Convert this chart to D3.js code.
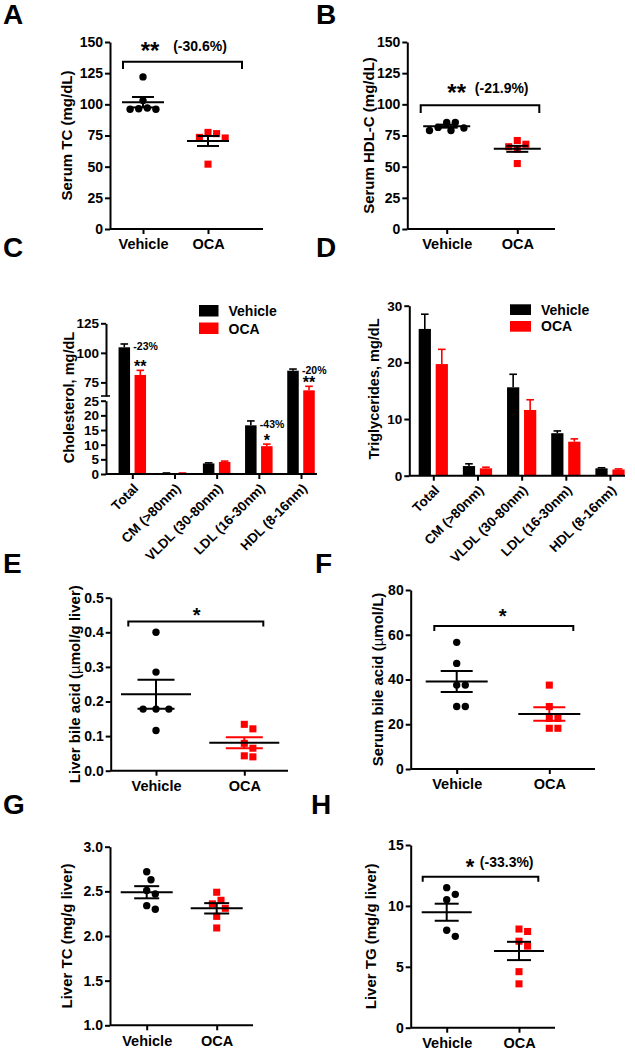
<!DOCTYPE html>
<html><head><meta charset="utf-8">
<script src="https://cdn.jsdelivr.net/npm/d3@7"></script>
<style>
body{margin:0;background:#fff}
svg{display:block}
</style>
</head><body>
<svg id="c" width="635" height="1050"></svg>
<script>
// ---------------- DATA ----------------
const groups = ["Vehicle", "OCA"];

// A: Serum TC (mg/dL)
const serumTCVehicle = [122, 103, 96.5, 96, 96, 97];
const serumTCOCA = [76.5, 73, 73.5, 77.5, 52];
const serumTCMean = [101.7, 70.6];
const serumTCSem = [4.2, 4.0];

// B: Serum HDL-C (mg/dL)
const serumHDLVehicle = [85.5, 81, 79, 79, 81.5, 85.5];
const serumHDLOCA = [68, 64, 66, 71, 52.5];
const serumHDLMean = [82.5, 64.3];
const serumHDLSem = [1.2, 2.4];

// C: Cholesterol by lipoprotein (mg/dL)
const lipoCats = ["Total", "CM (>80nm)", "VLDL (30-80nm)", "LDL (16-30nm)", "HDL (8-16nm)"];
const cholVehicle = [104.7, 0.3, 3.6, 16.6, 84.9];
const cholVehicleErr = [2.8, 0.05, 0.2, 1.5, 1.4];
const cholOCA = [81.3, 0.3, 4.1, 9.5, 68.3];
const cholOCAErr = [3.9, 0.05, 0.3, 0.7, 3.4];
const cholPct = ["-23%", "", "", "-43%", "-20%"];
const cholStars = ["**", "", "", "*", "**"];
const cholTicksLow = [0, 5, 10, 15, 20, 25];
const cholTicksHigh = [75, 100, 125];

// D: Triglycerides by lipoprotein (mg/dL)
const tgVehicle = [25.9, 1.7, 15.6, 7.5, 1.3];
const tgVehicleErr = [2.6, 0.4, 2.3, 0.4, 0.1];
const tgOCA = [19.7, 1.3, 11.6, 6.0, 1.1];
const tgOCAErr = [2.6, 0.2, 1.8, 0.5, 0.1];
const tgTicks = [0, 10, 20, 30];

// E: Liver bile acid (umol/g liver)
const liverBAVehicle = [0.40, 0.285, 0.178, 0.178, 0.178, 0.116];
const liverBAOCA = [0.134, 0.121, 0.079, 0.065, 0.043, 0.040];
const liverBAMean = [0.221, 0.081];
const liverBASem = [0.042, 0.016];

// F: Serum bile acid (umol/L)
const serumBAVehicle = [56.6, 47.2, 37.5, 37.5, 27.9, 27.9];
const serumBAOCA = [37.5, 27.9, 22.6, 22.6, 18.2, 18.2];
const serumBAMean = [39.1, 24.6];
const serumBASem = [4.7, 3.0];

// G: Liver TC (mg/g liver)
const liverTCVehicle = [2.72, 2.63, 2.51, 2.47, 2.34, 2.30];
const liverTCOCA = [2.49, 2.40, 2.36, 2.31, 2.22, 2.09];
const liverTCMean = [2.49, 2.31];
const liverTCSem = [0.068, 0.058];

// H: Liver TG (mg/g liver)
const liverTGVehicle = [11.5, 10.95, 10.5, 8.0, 7.5];
const liverTGOCA = [8.1, 7.9, 7.1, 6.7, 4.6, 3.6];
const liverTGMean = [9.48, 6.3];
const liverTGSem = [0.7, 0.75];

// ---------------- DRAWING ----------------
const FONT = '"Liberation Sans", Arial, Helvetica, sans-serif';
const RED = "#ff0000";
const svg = d3.select("#c");

function txt(sel, x, y, s, fs, anchor) {
  return sel.append("text").attr("x", x).attr("y", y)
    .attr("font-family", FONT).attr("font-weight", "bold")
    .attr("font-size", fs).attr("text-anchor", anchor || "start")
    .attr("fill", "#000").text(s);
}
function stars(sel, x, cy, s, fs) {
  return txt(sel, x, cy + 0.56 * fs, s, fs, "middle");
}
function styleAxis(g, fs) {
  g.attr("font-family", FONT).attr("font-weight", "bold").attr("font-size", fs);
  g.selectAll("path.domain").attr("stroke", "#000").attr("stroke-width", 2);
  g.selectAll(".tick line").attr("stroke", "#000").attr("stroke-width", 2);
  g.selectAll(".tick text").attr("fill", "#000");
}
function yTitle(sel, x, y, parts, fs) {
  const t = sel.append("text")
    .attr("transform", `translate(${x},${y}) rotate(-90)`)
    .attr("text-anchor", "middle").attr("dy", "0.35em")
    .attr("font-family", FONT).attr("font-weight", "bold").attr("font-size", fs).attr("fill", "#000");
  parts.forEach(p => {
    const ts = t.append("tspan").text(p.t);
    if (p.normal) ts.attr("font-weight", "normal");
  });
}

// beeswarm-like horizontal dodge computed from values
function swarm(vals, yScale, cx, r) {
  const pts = vals.map(v => ({ v, y: yScale(v) })).sort((a, b) => a.y - b.y);
  const placed = [];
  const minD = 2 * r + 1.2;
  const h = minD / 2;
  pts.forEach(p => {
    for (let k = 0; k < 40; k++) {
      const m = k === 0 ? 0 : (k % 2 ? 1 : -1) * Math.ceil(k / 2);
      const x = cx + m * h;
      if (placed.every(q => Math.hypot(q.x - x, q.y - p.y) >= minD)) {
        p.x = x; placed.push(p); break;
      }
    }
  });
  return placed;
}

function scatterPanel(c) {
  const g = svg.append("g");
  txt(g, c.lx, c.ly, c.letter, 28);
  const y = d3.scaleLinear().domain(c.yDom).range(c.yRng);
  const x = d3.scalePoint().domain(groups).range(c.xc);
  const axisY = c.yRng[0];

  const ya = g.append("g").attr("transform", `translate(${c.x0},0)`)
    .call(d3.axisLeft(y).tickValues(c.ticks).tickFormat(c.fmt).tickSize(5).tickPadding(2).tickSizeOuter(0));
  styleAxis(ya, 14);

  const xa = g.append("g").attr("transform", `translate(0,${axisY})`)
    .call(d3.axisBottom(x).tickSize(5).tickPadding(5).tickSizeOuter(0));
  xa.select("path.domain").attr("d", `M${c.x0},0H${c.x1}`);
  styleAxis(xa, 14.5);

  yTitle(g, c.tx, (c.yRng[0] + c.yRng[1]) / 2, c.title, 15);

  // points
  const r = 3.7;
  c.vals.forEach((vals, gi) => {
    const pts = swarm(vals, y, x(groups[gi]), r);
    if (gi === 0) {
      g.selectAll(null).data(pts).join("circle")
        .attr("cx", d => d.x).attr("cy", d => d.y).attr("r", r).attr("fill", "#000");
    } else {
      g.selectAll(null).data(pts).join("path")
        .attr("transform", d => `translate(${d.x},${d.y})`)
        .attr("d", d3.symbol(d3.symbolSquare, 50)()).attr("fill", RED);
    }
  });

  // mean +/- SEM
  groups.forEach((grp, gi) => {
    const cx = x(grp), m = c.mean[gi], s = c.sem[gi];
    const col = c.semCol ? c.semCol[gi] : "#000";
    g.append("line").attr("x1", cx).attr("x2", cx).attr("y1", y(m + s)).attr("y2", y(m - s))
      .attr("stroke", col).attr("stroke-width", 2);
    [m + s, m - s].forEach(v => g.append("line").attr("x1", cx - c.capW).attr("x2", cx + c.capW)
      .attr("y1", y(v)).attr("y2", y(v)).attr("stroke", col).attr("stroke-width", 2));
    g.append("line").attr("x1", cx - c.meanW).attr("x2", cx + c.meanW)
      .attr("y1", y(m)).attr("y2", y(m)).attr("stroke", "#000").attr("stroke-width", 2);
  });

  // significance bracket
  if (c.br) {
    const by = y(c.br.v);
    const xl = x(groups[0]) + c.br.l, xr = x(groups[1]) + c.br.r;
    g.append("path").attr("d", `M${xl},${by + c.br.drop}V${by}H${xr}V${by + c.br.drop}`)
      .attr("fill", "none").attr("stroke", "#000").attr("stroke-width", 2);
    const cy = by - c.br.up;
    stars(g, c.br.sx, cy, c.br.stars, c.br.sfs);
    if (c.br.pct) txt(g, c.br.px, cy + 5, c.br.pct, 14, "middle");
  }
}

function barPanel(c) {
  const g = svg.append("g");
  txt(g, c.lx, c.ly, c.letter, 28);
  const x = d3.scalePoint().domain(lipoCats).range(c.xr);
  const inner = d3.scaleBand().domain(groups).range([-c.half, c.half]).paddingInner(0.28).paddingOuter(0.14);
  const yv = c.yv;

  // bars
  const series = [{ m: c.veh, e: c.vehErr, col: "#000", gi: 0 }, { m: c.oca, e: c.ocaErr, col: RED, gi: 1 }];
  series.forEach(s => {
    lipoCats.forEach((cat, i) => {
      const x0 = x(cat) + inner(groups[s.gi]);
      const bw = inner.bandwidth();
      const top = yv(s.m[i]);
      g.append("rect").attr("x", x0).attr("y", top).attr("width", bw).attr("height", c.axisY - top).attr("fill", s.col);
      const ey = yv(s.m[i] + s.e[i]);
      const cx = x0 + bw / 2;
      g.append("line").attr("x1", cx).attr("x2", cx).attr("y1", top).attr("y2", ey).attr("stroke", s.col).attr("stroke-width", 1.6);
      g.append("line").attr("x1", cx - 3.8).attr("x2", cx + 3.8).attr("y1", ey).attr("y2", ey).attr("stroke", s.col).attr("stroke-width", 1.6);
    });
  });

  // axes
  c.yAxes.forEach(a => {
    const ya = g.append("g").attr("transform", `translate(${c.yx},0)`)
      .call(d3.axisLeft(a.scale).tickValues(a.ticks).tickSize(5).tickPadding(2).tickSizeOuter(0));
    styleAxis(ya, 13.5);
  });
  if (c.breakY) {
    c.breakY.forEach(by => g.append("line").attr("x1", c.yx - 5).attr("x2", c.yx + 4).attr("y1", by).attr("y2", by)
      .attr("stroke", "#000").attr("stroke-width", 1.6));
  }
  const xa = g.append("g").attr("transform", `translate(0,${c.axisY})`)
    .call(d3.axisBottom(x).tickSize(5).tickPadding(3).tickSizeOuter(0));
  xa.select("path.domain").attr("d", `M${c.yx},0H${c.xEnd}`);
  styleAxis(xa, 13.5);
  xa.selectAll(".tick text").attr("text-anchor", "end").attr("dy", "0.35em")
    .attr("transform", "translate(3,12) rotate(-45)").attr("y", 0).attr("x", 0);

  yTitle(g, c.tx, c.ty, [{ t: c.title }], 14.5);

  // legend
  const lg = g.append("g");
  [[groups[0], "#000"], [groups[1], RED]].forEach(([name, col], i) => {
    lg.append("rect").attr("x", c.leg.x).attr("y", c.leg.y + i * c.leg.dy).attr("width", c.leg.w).attr("height", c.leg.h).attr("fill", col);
    txt(lg, c.leg.x + c.leg.w + 10, c.leg.y + i * c.leg.dy + c.leg.h - 0.5, name, 14);
  });

  // annotations
  if (c.pct) {
    lipoCats.forEach((cat, i) => {
      if (c.pct[i]) txt(g, x(cat) + 1, yv(c.veh[i]) + 3, c.pct[i], 10.5);
      if (c.stars[i]) {
        const cx = x(cat) + inner(groups[1]) + inner.bandwidth() / 2;
        stars(g, cx, yv(c.oca[i] + c.ocaErr[i]) - 7, c.stars[i], 16);
      }
    });
  }
}

// ---- A ----
scatterPanel({
  letter: "A", lx: 3, ly: 24, x0: 110, x1: 263, xc: [143, 208],
  yDom: [0, 150], yRng: [229, 42], ticks: [0, 25, 50, 75, 100, 125, 150], fmt: d3.format("d"),
  title: [{ t: "Serum TC (mg/dL)" }], tx: 66.7,
  vals: [serumTCVehicle, serumTCOCA], mean: serumTCMean, sem: serumTCSem, meanW: 21, capW: 11,
  br: { v: 134.2, l: -20, r: 34, drop: 7.3, up: 15.7, stars: "**", sx: 150, sfs: 24, pct: "(-30.6%)", px: 200 }
});
// ---- B ----
scatterPanel({
  letter: "B", lx: 316, ly: 24, x0: 407.3, x1: 555, xc: [446.7, 517.3],
  yDom: [0, 150], yRng: [229, 42], ticks: [0, 25, 50, 75, 100, 125, 150], fmt: d3.format("d"),
  title: [{ t: "Serum HDL-C (mg/dL)" }], tx: 368.3,
  vals: [serumHDLVehicle, serumHDLOCA], mean: serumHDLMean, sem: serumHDLSem, meanW: 23.5, capW: 11,
  br: { v: 99.2, l: -26, r: 22, drop: 7.7, up: 17.8, stars: "**", sx: 456.7, sfs: 24, pct: "(-21.9%)", px: 501.7 }
});

// ---- C ----
const cLow = d3.scaleLinear().domain([0, 25]).range([474, 400.7]);
const cHigh = d3.scaleLinear().domain([63.5, 125]).range([396, 323.3]);
barPanel({
  letter: "C", lx: 3, ly: 257, yx: 106, xEnd: 317, xr: [132.3, 301], half: 16, axisY: 474,
  yv: v => v <= 25 ? cLow(v) : cHigh(v),
  yAxes: [{ scale: cLow, ticks: cholTicksLow }, { scale: cHigh, ticks: cholTicksHigh }],
  breakY: [396],
  veh: cholVehicle, vehErr: cholVehicleErr, oca: cholOCA, ocaErr: cholOCAErr,
  pct: cholPct, stars: cholStars,
  title: "Cholesterol, mg/dL", tx: 68.7, ty: 397.5,
  leg: { x: 199, y: 305, w: 19.5, h: 11.5, dy: 17.5 }
});
// ---- D ----
const dY = d3.scaleLinear().domain([0, 30]).range([475.7, 305.7]);
barPanel({
  letter: "D", lx: 316, ly: 257, yx: 409.3, xEnd: 625, xr: [433.3, 610], half: 17, axisY: 475.7,
  yv: v => dY(v),
  yAxes: [{ scale: dY, ticks: tgTicks }],
  veh: tgVehicle, vehErr: tgVehicleErr, oca: tgOCA, ocaErr: tgOCAErr,
  title: "Triglycerides, mg/dL", tx: 374, ty: 389,
  leg: { x: 510, y: 304.3, w: 21, h: 10.7, dy: 16.7 }
});

// ---- E ----
scatterPanel({
  letter: "E", lx: 3, ly: 573, x0: 110.7, x1: 288, xc: [156, 244.3],
  yDom: [0, 0.5], yRng: [770.7, 597.7], ticks: [0, 0.1, 0.2, 0.3, 0.4, 0.5], fmt: d3.format(".1f"),
  title: [{ t: "Liver bile acid (" }, { t: "\u00b5", normal: true }, { t: "mol/g liver)" }], tx: 75,
  vals: [liverBAVehicle, liverBAOCA], mean: liverBAMean, sem: liverBASem, meanW: 35, capW: 18.5,
  semCol: ["#000", RED],
  br: { v: 0.431, l: -27.7, r: 19, drop: 5, up: 10.7, stars: "*", sx: 196.7, sfs: 20 }
});
// ---- F ----
scatterPanel({
  letter: "F", lx: 315, ly: 573, x0: 410.7, x1: 595, xc: [456.7, 549.3],
  yDom: [0, 80], yRng: [769, 590], ticks: [0, 20, 40, 60, 80], fmt: d3.format("d"),
  title: [{ t: "Serum bile acid (" }, { t: "\u00b5", normal: true }, { t: "mol/L)" }], tx: 377.5,
  vals: [serumBAVehicle, serumBAOCA], mean: serumBAMean, sem: serumBASem, meanW: 31, capW: 16,
  semCol: ["#000", RED],
  br: { v: 63.9, l: -22.4, r: 24, drop: 5, up: 14.5, stars: "*", sx: 502.7, sfs: 20 }
});
// ---- G ----
scatterPanel({
  letter: "G", lx: 3, ly: 814, x0: 110, x1: 253, xc: [146.7, 216.7],
  yDom: [1, 3], yRng: [1025.3, 846.7], ticks: [1, 1.5, 2, 2.5, 3], fmt: d3.format(".1f"),
  title: [{ t: "Liver TC (mg/g liver)" }], tx: 67,
  vals: [liverTCVehicle, liverTCOCA], mean: liverTCMean, sem: liverTCSem, meanW: 26, capW: 12.5
});
// ---- H ----
scatterPanel({
  letter: "H", lx: 311, ly: 814, x0: 410.7, x1: 555, xc: [446.7, 519],
  yDom: [0, 15], yRng: [1027.7, 845], ticks: [0, 5, 10, 15], fmt: d3.format("d"),
  title: [{ t: "Liver TG (mg/g liver)" }], tx: 370.8,
  vals: [liverTGVehicle, liverTGOCA], mean: liverTGMean, sem: liverTGSem, meanW: 25, capW: 12,
  br: { v: 12.4, l: -24, r: 19.3, drop: 5, up: 14.7, stars: "*", sx: 470, sfs: 22, pct: "(-33.3%)", px: 506.7 }
});
</script>
</body></html>
